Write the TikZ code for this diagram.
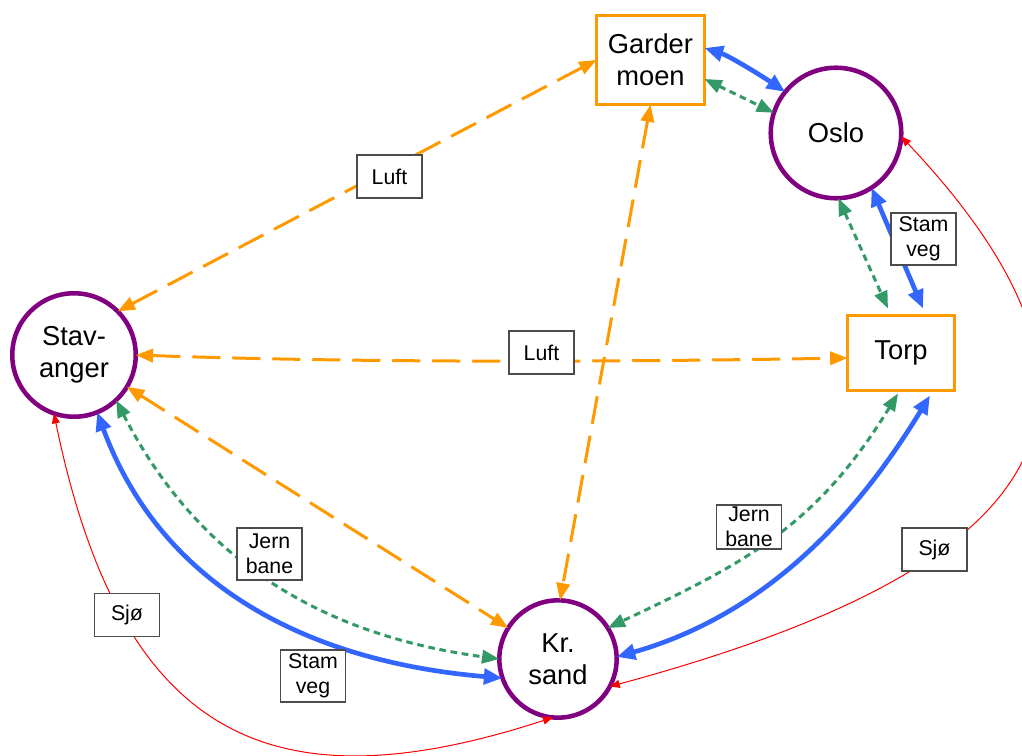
\documentclass[tikz,border=0pt]{standalone}
\usepackage{fontspec}
\setmainfont{Liberation Sans}
\usetikzlibrary{arrows.meta,calc}
\definecolor{airorange}{RGB}{255,153,0}
\definecolor{citypurple}{RGB}{128,0,128}
\definecolor{roadblue}{RGB}{51,102,255}
\definecolor{railgreen}{RGB}{51,153,102}
\definecolor{seared}{RGB}{255,0,0}
\begin{document}
\begin{tikzpicture}[x=0.75pt,y=-0.75pt,
  city/.style={circle, draw=citypurple, line width=3.4pt, fill=white,
    inner sep=0pt, outer sep=0pt, align=center,
    font=\fontsize{20.5}{24}\selectfont},
  airport/.style={rectangle, draw=airorange, line width=2.25pt, fill=white,
    inner sep=0pt, outer sep=0pt, align=center,
    font=\fontsize{20.5}{24}\selectfont},
  lbl/.style={rectangle, draw=black!70, line width=0.9pt, fill=white,
    inner sep=0pt, minimum width=48.75pt, minimum height=32.25pt,
    align=center, font=\fontsize{16}{18.5}\selectfont},
  air/.style={airorange, line width=2.25pt, dash pattern=on 21pt off 9pt,
    {Triangle[length=13pt,width=10pt]}-{Triangle[length=13pt,width=10pt]}},
  road/.style={roadblue, line width=3.5pt,
    {Triangle[length=14pt,width=11.5pt]}-{Triangle[length=14pt,width=11.5pt]}},
  rail/.style={railgreen, line width=2.25pt, dash pattern=on 5pt off 3.5pt,
    {Triangle[length=13pt,width=10pt]}-{Triangle[length=13pt,width=10pt]}},
  sea/.style={seared, line width=0.75pt,
    {Triangle[length=7.5pt,width=6pt]}-{Triangle[length=7.5pt,width=6pt]}},
]
\fill[white] (0,0) rectangle (1022,756);
\useasboundingbox (0,0) rectangle (1022,756);

% places
\node[airport, minimum width=81pt, minimum height=66.75pt] (garder) at (650.5,60) {Garder\\moen};
\node[airport, minimum width=80.25pt, minimum height=56.25pt] (torp) at (901,353) {Torp};
\node[city, minimum size=97.9pt] (oslo) at (836,133) {Oslo};
\node[city, minimum size=92.6pt] (stav) at (74,355) {Stav-\\anger};
\node[city, minimum size=88pt] (krsand) at (558,659) {Kr.\\sand};

% air routes
\draw[air] (stav.45) -- (garder.west);
\draw[air] (stav.east) .. controls +(230,8) and +(-230,4) .. ($(torp.west)+(0,5)$);
\draw[air] (stav.-31) -- (krsand.148);
\draw[air] (garder.south) -- (krsand.88);

% main roads
\draw[road] ($(garder.east)+(0,-12)$) .. controls +(25,8) and +(-22,-15) .. (oslo.141);
\draw[road] (oslo.-57) -- ($(torp.north)+(22,-7)$);
\draw[road] ($(torp.south)+(29,5)$) .. controls +(-78,128) and +(144,-41) .. (krsand.2);
\draw[road] (stav.-68) .. controls +(66,178) and +(-189,-16) .. (krsand.199);

% railways
\draw[rail] ($(garder.east)+(0,19)$) -- (oslo.162);
\draw[rail] (oslo.-88) -- ($(torp.north)+(-13,-7)$);
\draw[rail] ($(torp.south)+(-3,3)$) .. controls +(-81,132) and +(140,-66) .. (krsand.32);
\draw[rail] (stav.-47) .. controls +(82,160) and +(-178,-24) .. (krsand.180);

% sea routes
\draw[sea] (stav.-109) .. controls +(67,325) and +(-282.5,92) .. (krsand.-95);
\draw[sea] (oslo.-3) .. controls +(277,293.5) and +(398,-108) .. (krsand.-28);

% route labels
\node[lbl] (luftA) at (389.5,176.5) {Luft};
\node[lbl] (luftB) at (541.5,352.5) {Luft};
\node[lbl, minimum height=39pt] (vegA) at (923.5,239) {Stam\\veg};
\node[lbl, minimum height=33pt] (baneA) at (749,527) {Jern\\bane};
\node[lbl] (sjoA) at (934.5,549.5) {Sjø};
\node[lbl, minimum height=39pt] (baneB) at (269.5,554) {Jern\\bane};
\node[lbl, minimum height=39pt] (vegB) at (313,676) {Stam\\veg};
\node[lbl] (sjoB) at (127,615) {Sjø};
\end{tikzpicture}
\end{document}
